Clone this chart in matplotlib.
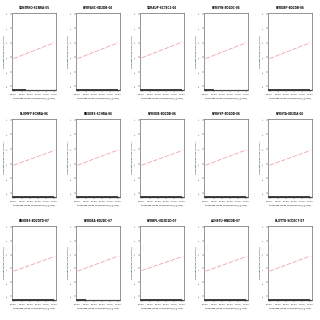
import matplotlib
matplotlib.use("Agg")
import matplotlib.pyplot as plt

titles = ["SDNTRKO-SCNRA-05", "RYRFASC-8D2DB-06", "SDRAUP-SC7EC1-06", "RYRSYN-8D2DC-06", "RYRDBP-8D2DB-06",
          "DLXMFY-SCNRA-06", "ENSDBS-SCHRA-06", "RYRSDB-8D2DB-06", "RYRHYP-8D2DD-06", "RYRSTA-8D2DA-06",
          "ENSDBS-8D2DTD-07", "RYRDBA-8D2DC-07", "RYRBPL-8D2D1D-07", "AGHSTU-HNDDB-07", "DLXYTO-SCDEC7-07"]
line_start = [-1.1, -1.1, -1.05, -1.1, -1.1, -1.1, -1.1, -1.1, -1.1, -1.1, -1.2, -1.2, -1.15, -1.2, -1.2]
line_end = [0.0, 0.0, 0.05, 0.0, 0.0, -0.1, -0.05, -0.1, -0.05, -0.1, -0.15, -0.1, -0.15, -0.15, -0.1]
rug_end = [1.5, 5.0, 5.0, 1.0, 5.0, 5.0, 5.0, 5.0, 5.0, 5.0, 5.0, 1.0, 5.0, 5.0, 5.0]
ytick_vals = [-3, -2, -1, 0, 1, 2]
ytick_labels = ["-3", "-2", "-1", "0", "1", "2"]
xtick_vals = [0, 1, 2, 3, 4, 5]
xtick_labels = ["09:00", "09:30", "10:00", "10:30", "11:00", "11:30"]
ylabel = "Leverage Trade Loss (Cost%)"
xlabel = "Leverage Trade Loss/Trade(s) (@ 50d)"

W = H = 320
fig = plt.figure(figsize=(3.2, 3.2), dpi=100)
row_tops = [13, 119, 226]
row_bots = [90, 197, 300]
for i, t in enumerate(titles):
    r, c = divmod(i, 5)
    left = 12 + 64 * c
    w = 44
    top, bot = row_tops[r], row_bots[r]
    ax = fig.add_axes([left / W, 1 - bot / H, w / W, (bot - top) / H])
    ax.plot([0, 5], [line_start[i], line_end[i]], color="#f29a9a", lw=0.55, ls=(0, (6, 2)))
    ax.plot([-0.2, 5.2], [-3.27, -3.27], color="#555555", lw=0.9, solid_capstyle="butt", clip_on=False)
    ax.plot([-0.2, rug_end[i]], [-3.27, -3.27], color="#222222", lw=1.2, solid_capstyle="butt", clip_on=False)
    ax.set_xlim(-0.2, 5.2)
    ax.set_ylim(-3.27, 2.05)
    ax.set_yticks(ytick_vals)
    ax.set_yticklabels(ytick_labels, rotation=90, va="center")
    ax.set_xticks(xtick_vals)
    ax.set_xticklabels(xtick_labels)
    ax.tick_params(labelsize=1.7, length=1.2, width=0.3, pad=1.5, colors="#333333")
    for s in ax.spines.values():
        s.set_linewidth(0.4)
        s.set_color("#444444")
    ax.set_title(t, fontsize=2.0, fontweight="bold", pad=3)
    ax.set_xlabel(xlabel, fontsize=1.6, labelpad=2)
    ax.set_ylabel(ylabel, fontsize=1.6, labelpad=1.5)

fig.savefig("out.png", dpi=100)
